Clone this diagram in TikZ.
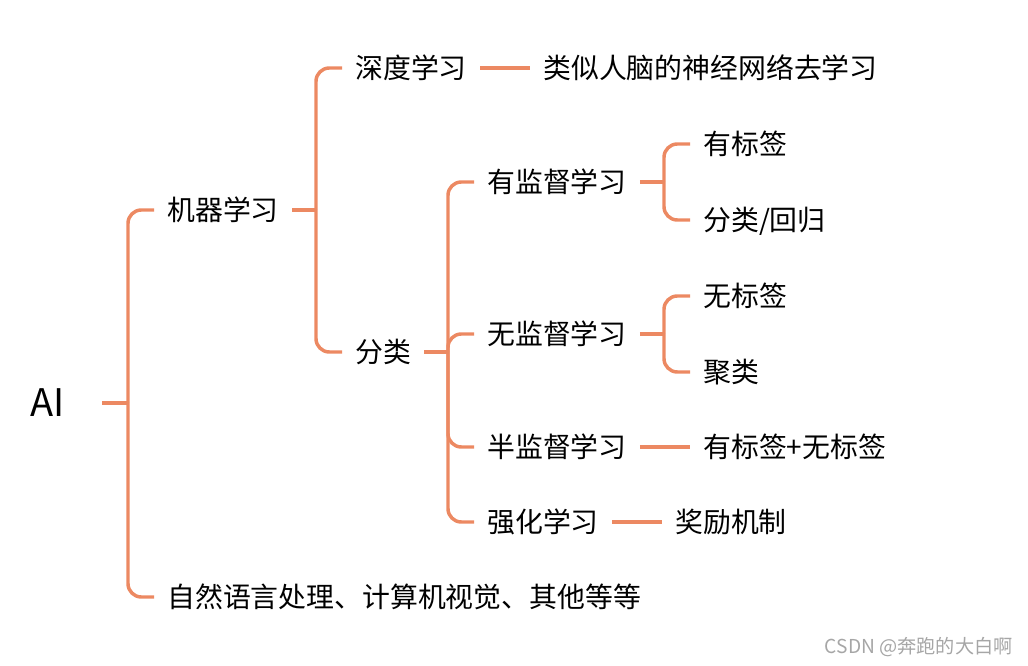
\documentclass[tikz,border=0pt]{standalone}
\usepackage{fontspec}
\setmainfont{Noto Sans CJK SC}
\usetikzlibrary{calc}
\definecolor{branchorange}{RGB}{236,137,98}

\tikzset{
  topic/.style={anchor=west, inner xsep=9.75pt, inner ysep=0pt,
    font=\fontsize{20.9}{24}\selectfont, text height=16.7pt, text depth=1pt},
  branch/.style={draw=branchorange, line width=2.6pt, rounded corners=10pt},
}

\begin{document}
\begin{tikzpicture}[x=0.75pt, y=-0.75pt]
  \useasboundingbox (0,0) rectangle (1028,666);

  % Root
  \node[anchor=east, inner xsep=27.75pt, inner ysep=0pt,
        font=\fontsize{28.5}{32}\selectfont] (ai) at (102,403) {AI};

  % First level
  \node[topic] (ml) at (154,210) {机器学习};
  \node[topic] (other) at (154,597) {自然语言处理、计算机视觉、其他等等};

  % Second level
  \node[topic] (dl) at (342,68) {深度学习};
  \node[topic] (cls) at (342,352) {分类};
  \node[topic] (dlx) at (530,68) {类似人脑的神经网络去学习};

  % Kinds of learning
  \node[topic] (sup) at (474,182) {有监督学习};
  \node[topic] (unsup) at (474,334) {无监督学习};
  \node[topic] (semi) at (474,447) {半监督学习};
  \node[topic] (rl) at (474,522) {强化学习};

  % Leaves
  \node[topic] (sup1) at (690,144) {有标签};
  \node[topic] (sup2) at (690,220) {分类/回归};
  \node[topic] (un1) at (690,296) {无标签};
  \node[topic] (un2) at (690,372) {聚类};
  \node[topic] (semi1) at (690,447) {有标签+无标签};
  \node[topic] (rl1) at (662,522) {奖励机制};

  % Junctions of the brackets
  \coordinate (jai) at ($(ml.west |- ai.east)+(-26,0)$);
  \coordinate (jml) at ($(dl.west |- ml.east)+(-26,0)$);
  \coordinate (jcls) at ($(sup.west |- cls.east)+(-26,0)$);
  \coordinate (jsup) at ($(sup1.west |- sup.east)+(-26,0)$);
  \coordinate (junsup) at ($(un1.west |- unsup.east)+(-26,0)$);

  % Brackets
  \draw[branch] (ai.east) -- (jai);
  \foreach \c in {ml,other} \draw[branch] (jai) |- (\c.west);
  \draw[branch] (ml.east) -- (jml);
  \foreach \c in {dl,cls} \draw[branch] (jml) |- (\c.west);
  \draw[branch] (cls.east) -- (jcls);
  \foreach \c in {sup,unsup,semi,rl} \draw[branch] (jcls) |- (\c.west);
  \draw[branch] (sup.east) -- (jsup);
  \foreach \c in {sup1,sup2} \draw[branch] (jsup) |- (\c.west);
  \draw[branch] (unsup.east) -- (junsup);
  \foreach \c in {un1,un2} \draw[branch] (junsup) |- (\c.west);

  % Single children
  \draw[branch] (dl.east) -- (dlx.west);
  \draw[branch] (semi.east) -- (semi1.west);
  \draw[branch] (rl.east) -- (rl1.west);

  % Watermark
  \node[anchor=east, inner sep=0pt, text=gray!70,
        font=\fontsize{14.4}{16}\selectfont] (wmark) at (1013,647) {CSDN @奔跑的大白啊};
\end{tikzpicture}
\end{document}
